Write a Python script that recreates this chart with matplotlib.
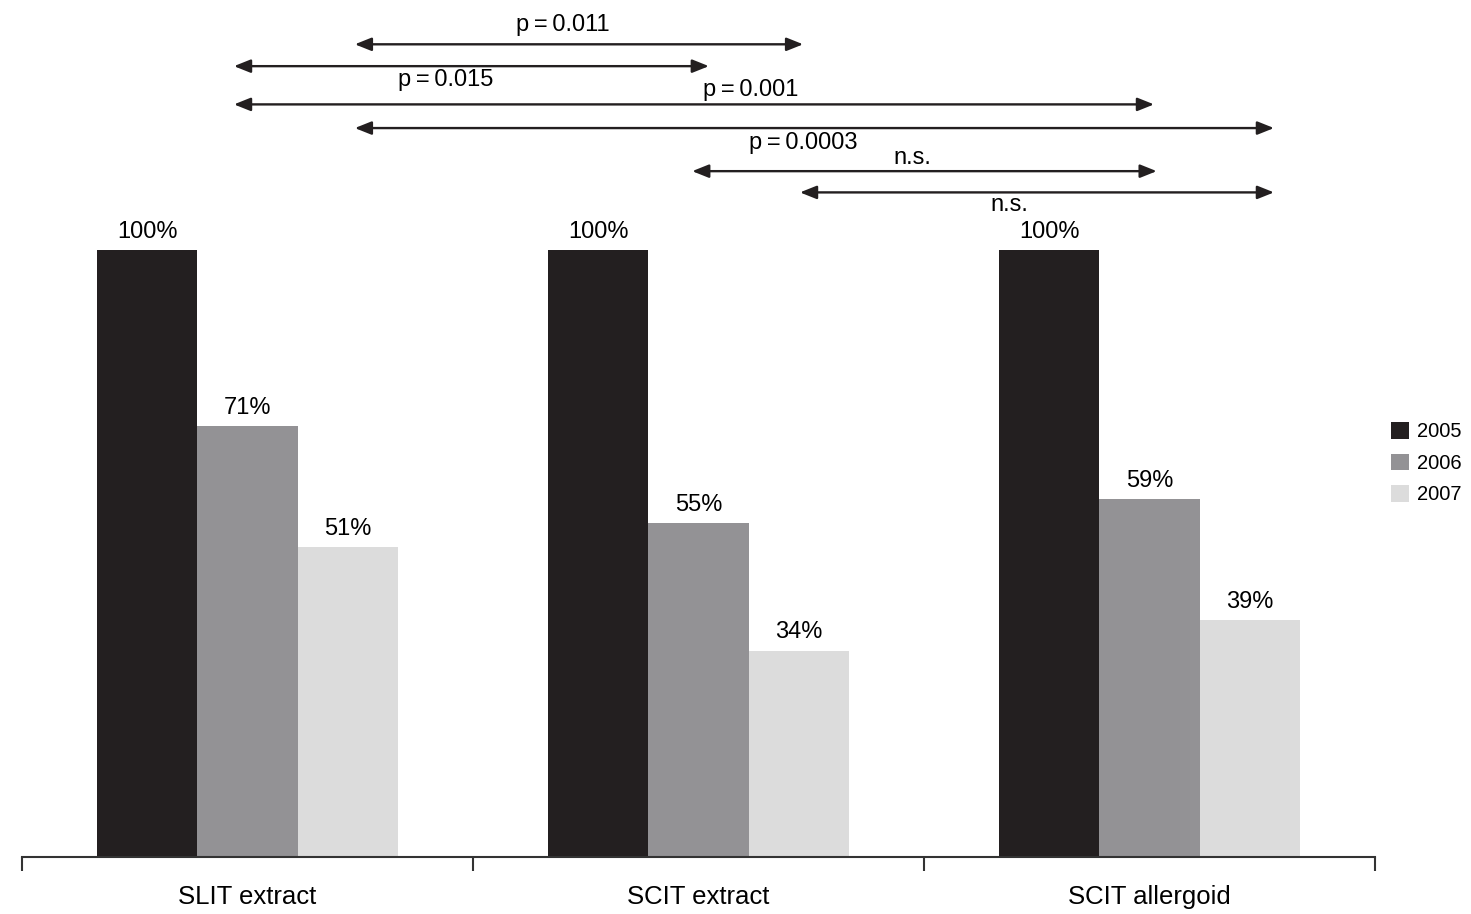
import numpy as np
import matplotlib.pyplot as plt

categories = ["SLIT extract", "SCIT extract", "SCIT allergoid"]
years = ["2005", "2006", "2007"]
values = {
    "2005": [100, 100, 100],
    "2006": [71, 55, 59],
    "2007": [51, 34, 39],
}
colors = {"2005": "#231f20", "2006": "#939295", "2007": "#dcdcdc"}

# comparisons: (start x, end x, y level, label, label x, label y)
comparisons = [
    (0.238, 1.232, 133.9, "p\u2009=\u20090.011", 0.70, 137.1),
    (-0.030, 1.023, 130.3, "p\u2009=\u20090.015", 0.44, 128.0),
    (-0.030, 2.010, 124.0, "p\u2009=\u20090.001", 1.115, 126.3),
    (0.238, 2.276, 120.1, "p\u2009=\u20090.0003", 1.232, 117.6),
    (0.986, 2.016, 113.0, "n.s.", 1.475, 115.2),
    (1.225, 2.276, 109.5, "n.s.", 1.69, 107.4),
]

plt.rcParams['font.family'] = ['Liberation Sans', 'DejaVu Sans']

fig = plt.figure(figsize=(14.71, 9.14), dpi=100)
ax = fig.add_axes([22 / 1471, 57 / 914, (1375 - 22) / 1471, 1 - 57 / 914])

x = np.arange(len(categories))
width = 0.222
for i, yr in enumerate(years):
    pos = x + (i - 1) * width
    ax.bar(pos, values[yr], width, color=colors[yr], label=yr)
    for px, v in zip(pos, values[yr]):
        ax.text(px, v + 1.2, f"{v}%", ha='center', va='bottom', fontsize=17)

for x0, x1, y, lab, lx, ly in comparisons:
    ax.annotate("", xy=(x1, y), xytext=(x0, y),
                arrowprops=dict(arrowstyle='<|-|>,head_length=1.0,head_width=0.4',
                                color='#231f20', lw=1.7, shrinkA=0, shrinkB=0))
    ax.text(lx, ly, lab, ha='center', va='center', fontsize=17)

ax.set_xlim(-0.5, 2.5)
ax.set_ylim(0, 141.2)
for s in ['top', 'right', 'left']:
    ax.spines[s].set_visible(False)
ax.spines['bottom'].set_linewidth(1.5)
ax.spines['bottom'].set_color('#333333')
ax.set_yticks([])
ax.set_xticks([-0.5, 0.5, 1.5, 2.5])
ax.set_xticklabels([])
ax.tick_params(axis='x', which='major', length=10, width=1.5, color='#333333')
ax.set_xticks(x, minor=True)
ax.set_xticklabels(categories, minor=True, fontsize=18.5)
for lbl in ax.get_xticklabels(minor=True):
    lbl.set_va('center')
ax.tick_params(axis='x', which='minor', length=0, pad=29)

fig.legend(loc='upper left', bbox_to_anchor=(1373 / 1471, 1 - 404 / 914),
           frameon=False, fontsize=14.5, handlelength=0.9, handleheight=0.9,
           handletextpad=0.4, labelspacing=0.6)

fig.savefig("out.png", dpi=100)
